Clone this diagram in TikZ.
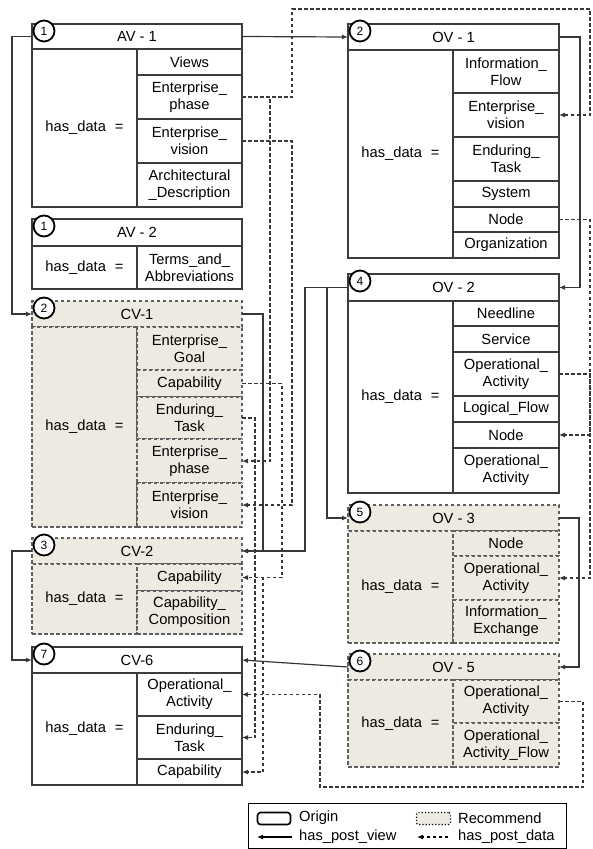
\documentclass[tikz,border=0pt]{standalone}
\usepackage{fontspec}
\setmainfont{Liberation Sans}
\usetikzlibrary{arrows.meta}
\definecolor{beige}{RGB}{237,234,225}
\definecolor{oc}{RGB}{60,60,60}
\definecolor{rc}{RGB}{95,95,95}
\definecolor{lc}{RGB}{55,55,55}
\newcommand\cell[7]{\node[#1, minimum width={(#5)-(#3)}, minimum height={(#6)-(#4)}] (#2) at ({((#3)+(#5))/2},{((#4)+(#6))/2}) {#7};}
\newcommand\hd{has\_data\hspace{9pt}=}
\begin{document}
\begin{tikzpicture}[x=1pt,y=-1pt,
  font=\fontsize{14.7}{17.3}\selectfont,
  ob/.style={draw=oc, line width=1.2pt, fill=white, inner sep=0pt, outer sep=0pt, align=center},
  rb/.style={draw=rc, line width=1.2pt, dash pattern=on 3.5pt off 2.5pt, fill=beige, inner sep=0pt, outer sep=0pt, align=center},
  num/.style={circle, draw=black, line width=1.8pt, fill=white, minimum size=21pt, inner sep=0pt, font=\fontsize{12}{12}\selectfont},
  sl/.style={draw=lc, line width=1.2pt, -{Latex[length=6pt,width=5pt]}},
  dl/.style={draw=lc, line width=1.1pt, dash pattern=on 3.5pt off 2.5pt, -{Latex[length=6pt,width=5pt]}},
  lt/.style={anchor=west, inner sep=0pt}]
\useasboundingbox (0,0) rectangle (592,849);
% ---------- AV-1 ----------
\cell{ob}{av1t}{32}{24}{242}{49}{AV - 1}
\cell{ob}{av1h}{32}{49}{137}{207}{\hd}
\cell{ob}{av1views}{137}{49}{242}{75}{Views}
\cell{ob}{av1phase}{137}{75}{242}{119}{Enterprise\_\\phase}
\cell{ob}{av1vis}{137}{119}{242}{163}{Enterprise\_\\vision}
\cell{ob}{av1arch}{137}{163}{242}{207}{Architectural\\\_Description}
% ---------- AV-2 ----------
\cell{ob}{av2t}{32}{219}{242}{246}{AV - 2}
\cell{ob}{av2h}{32}{246}{137}{289}{\hd}
\cell{ob}{av2terms}{137}{246}{242}{289}{Terms\_and\_\\Abbreviations}
% ---------- CV-1 ----------
\cell{rb}{cv1t}{32}{301}{242}{327}{CV-1}
\cell{rb}{cv1h}{32}{327}{137}{527}{\hd}
\cell{rb}{cv1goal}{137}{327}{242}{370}{Enterprise\_\\Goal}
\cell{rb}{cv1cap}{137}{370}{242}{397}{Capability}
\cell{rb}{cv1et}{137}{397}{242}{439}{Enduring\_\\Task}
\cell{rb}{cv1phase}{137}{439}{242}{483}{Enterprise\_\\phase}
\cell{rb}{cv1vis}{137}{483}{242}{527}{Enterprise\_\\vision}
% ---------- CV-2 ----------
\cell{rb}{cv2t}{32}{538}{242}{564}{CV-2}
\cell{rb}{cv2h}{32}{564}{137}{634}{\hd}
\cell{rb}{cv2cap}{137}{564}{242}{591}{Capability}
\cell{rb}{cv2comp}{137}{591}{242}{634}{Capability\_\\Composition}
% ---------- CV-6 ----------
\cell{ob}{cv6t}{32}{647}{242}{673}{CV-6}
\cell{ob}{cv6h}{32}{673}{137}{785}{\hd}
\cell{ob}{cv6oa}{137}{673}{242}{716}{Operational\_\\Activity}
\cell{ob}{cv6et}{137}{716}{242}{759}{Enduring\_\\Task}
\cell{ob}{cv6cap}{137}{759}{242}{785}{Capability}
% ---------- OV-1 ----------
\cell{ob}{ov1t}{348}{24}{559}{50}{OV - 1}
\cell{ob}{ov1h}{348}{50}{453}{258}{\hd}
\cell{ob}{ov1if}{453}{50}{559}{93}{Information\_\\Flow}
\cell{ob}{ov1vis}{453}{93}{559}{137}{Enterprise\_\\vision}
\cell{ob}{ov1et}{453}{137}{559}{181}{Enduring\_\\Task}
\cell{ob}{ov1sys}{453}{181}{559}{207}{System}
\cell{ob}{ov1node}{453}{207}{559}{232}{Node}
\cell{ob}{ov1org}{453}{232}{559}{258}{Organization}
% ---------- OV-2 ----------
\cell{ob}{ov2t}{348}{274}{559}{301}{OV - 2}
\cell{ob}{ov2h}{348}{301}{453}{493}{\hd}
\cell{ob}{ov2need}{453}{301}{559}{326}{Needline}
\cell{ob}{ov2serv}{453}{326}{559}{352}{Service}
\cell{ob}{ov2oa}{453}{352}{559}{396}{Operational\_\\Activity}
\cell{ob}{ov2lf}{453}{396}{559}{422}{Logical\_Flow}
\cell{ob}{ov2node}{453}{422}{559}{448}{Node}
\cell{ob}{ov2oab}{453}{448}{559}{493}{Operational\_\\Activity}
% ---------- OV-3 ----------
\cell{rb}{ov3t}{348}{505}{559}{531}{OV - 3}
\cell{rb}{ov3h}{348}{531}{453}{643}{\hd}
\cell{rb}{ov3node}{453}{531}{559}{556}{Node}
\cell{rb}{ov3oa}{453}{556}{559}{600}{Operational\_\\Activity}
\cell{rb}{ov3ie}{453}{600}{559}{643}{Information\_\\Exchange}
% ---------- OV-5 ----------
\cell{rb}{ov5t}{348}{654}{559}{680}{OV - 5}
\cell{rb}{ov5h}{348}{680}{453}{767}{\hd}
\cell{rb}{ov5oa}{453}{680}{559}{723}{Operational\_\\Activity}
\cell{rb}{ov5oaf}{453}{723}{559}{767}{Operational\_\\Activity\_Flow}
% ---------- routing coordinates ----------
\coordinate (xL) at (12,0);
\coordinate (xA) at (292,0);
\coordinate (xB) at (270,0);
\coordinate (xC) at (282,0);
\coordinate (xD) at (263,0);
\coordinate (xE) at (255,0);
\coordinate (xF) at (583,0);
\coordinate (xG) at (320,0);
\coordinate (xR) at (590,0);
\coordinate (yT) at (0,9);
\coordinate (yB) at (0,787);
% ---------- solid connectors (has_post_view) ----------
\draw[sl] (av1t.west) -- (xL |- av1t.west) |- (cv1t.west);
\draw[sl] (av1t.east) -- (ov1t.west);
\draw[sl] (ov1t.east) -- ++(21,0) |- (ov2t.east);
\draw[sl] (ov2t.west) -- ++(-43,0) |- (cv2t.east);
\draw[sl] (ov2t.west) -- ++(-21,0) |- (ov3t.west);
\draw[sl] (cv1t.east) -- ++(21,0) |- (cv2t.east);
\draw[sl] (cv2t.west) -- (xL |- cv2t.west) |- (cv6t.west);
\draw[sl] (ov3t.east) -- ++(20,0) |- (ov5t.east);
\draw[sl] (ov5t.west) -- (cv6t.east);
% ---------- dashed connectors (has_post_data) ----------
\draw[dl] (av1phase.east) -| (xA |- yT) -| (xR |- ov1vis.east) -- (ov1vis.east);
\draw[dl] (av1phase.east) -| (xB |- cv1phase.east) -- (cv1phase.east);
\draw[dl] (av1vis.east) -| (xA |- cv1vis.east) -- (cv1vis.east);
\draw[dl] (ov1node.east) -| (xR |- ov2node.east) -- (ov2node.east);
\draw[dl] (ov2oa.east) -| (xR |- ov3oa.east) -- (ov3oa.east);
\draw[dl] (cv1cap.east) -| (xC |- cv2cap.east) -- (cv2cap.east);
\draw[dl] (cv1cap.east) -| (xC |- cv2cap.east) -| (xD |- cv6cap.east) -- (cv6cap.east);
\draw[dl] (cv1et.east) -| (xE |- cv6et.east) -- (cv6et.east);
\draw[dl] (ov5oa.east) -| (xF |- yB) -| (xG |- cv6oa.east) -- (cv6oa.east);
% ---------- number circles ----------
\node[num] (n1) at (44,31) {1};
\node[num] (n2) at (44,226) {1};
\node[num] (n3) at (44,308) {2};
\node[num] (n4) at (44,545) {3};
\node[num] (n5) at (44,654) {7};
\node[num] (n6) at (360,31) {2};
\node[num] (n7) at (360,281) {4};
\node[num] (n8) at (360,512) {5};
\node[num] (n9) at (360,661) {6};
% ---------- legend ----------
\cell{draw=black, line width=1pt, inner sep=0pt}{legend}{248}{803}{566}{848}{}
\node[draw=black, line width=1.6pt, rounded corners=3pt, minimum width=33pt, minimum height=12pt, inner sep=0pt] (lgo) at (274,818.5) {};
\node[lt] (lgot) at (299,818) {Origin};
\coordinate (la1) at (292,837);
\coordinate (la2) at (257,837);
\draw[sl, draw=black] (la1) -- (la2);
\node[lt] (lgvt) at (299,837) {has\_post\_view};
\node[draw=black, line width=1.2pt, dotted, fill=beige, rounded corners=2pt, minimum width=34pt, minimum height=12pt, inner sep=0pt] (lgr) at (433.5,818.5) {};
\node[lt] (lgrt) at (458,818) {Recommend};
\coordinate (lb1) at (448,837);
\coordinate (lb2) at (417,837);
\draw[dl, draw=black] (lb1) -- (lb2);
\node[lt] (lgdt) at (458,837) {has\_post\_data};
\end{tikzpicture}
\end{document}
